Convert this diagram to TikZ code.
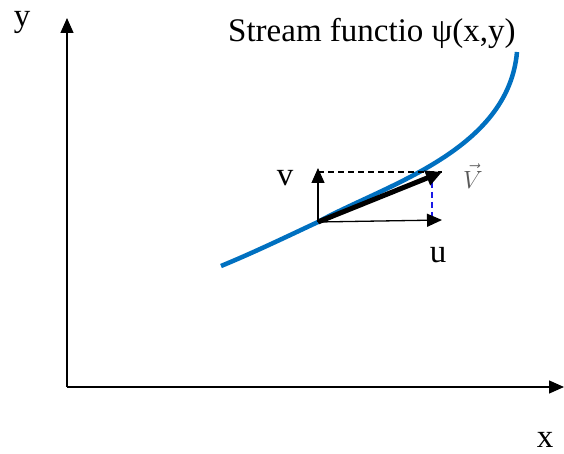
\documentclass[tikz,border=0pt]{standalone}
\usepackage{fontspec}
\setmainfont{Liberation Serif}
\usetikzlibrary{arrows.meta,calc}
\definecolor{stream}{HTML}{0070C0}
\definecolor{ink}{HTML}{000000}
\definecolor{comp}{HTML}{1A1AE6}

\begin{document}
\begin{tikzpicture}[x=1pt,y=-1pt,line join=miter,
  axis/.style={-{Triangle[length=15pt,width=13pt]},line width=1.3pt,ink},
  vec/.style={-{Triangle[length=15pt,width=13pt]},line width=1.3pt,ink},
  vbig/.style={-{Triangle[length=16pt,width=15pt]},line width=5pt,ink},
  lbl/.style={font=\fontsize{33}{40}\selectfont,text=ink,inner sep=0pt}]
  \useasboundingbox (0,0) rectangle (564,454);

  \coordinate (O) at (67,387);     % axes origin
  \coordinate (XE) at (564,387);   % end of x axis
  \coordinate (YE) at (67,18);     % end of y axis
  \coordinate (P) at (318,222);    % point on the streamline
  \coordinate (VT) at (442,172);   % tip of velocity V
  \coordinate (UT) at (442,220);   % tip of u
  \coordinate (VY) at (318,168);   % tip of v
  \coordinate (S0) at (221,266);   % start of streamline
  \coordinate (S1) at (517,52);    % end of streamline

  % ---- axes ----
  \draw[axis] (O) -- (XE);
  \draw[axis] (O) -- (YE);
  \node[lbl] (ylab) at (22,22) {y};
  \node[lbl] (xlab) at (545,440) {x};

  % ---- streamline ----
  \draw[stream,line width=4.5pt] (S0) .. controls (255,252) and (288,236) .. (P)
    .. controls (382,186) and (508,152) .. (S1);
  \node[lbl,anchor=west] (title) at (228,33) {Stream functio ψ(x,y)};

  % ---- components ----
  \draw[dashed,line width=1.1pt,dash pattern=on 6pt off 4pt,ink] (P |- VT) -- (VT);
  \draw[comp,dashed,line width=1.1pt,dash pattern=on 6pt off 4pt] (432,172) -- (432,220);
  \draw[vec] (P) -- (VY);
  \draw[vec] (P) -- (UT);
  \draw[vbig] (P) -- (VT);
  \node[lbl] (vlab) at (285,178) {v};
  \node[lbl] (ulab) at (438,255) {u};
  \node[font=\fontsize{24}{28}\selectfont,text=ink!65,inner sep=0pt] (Vlab) at (473,176) {$\vec{V}$};
\end{tikzpicture}
\end{document}
